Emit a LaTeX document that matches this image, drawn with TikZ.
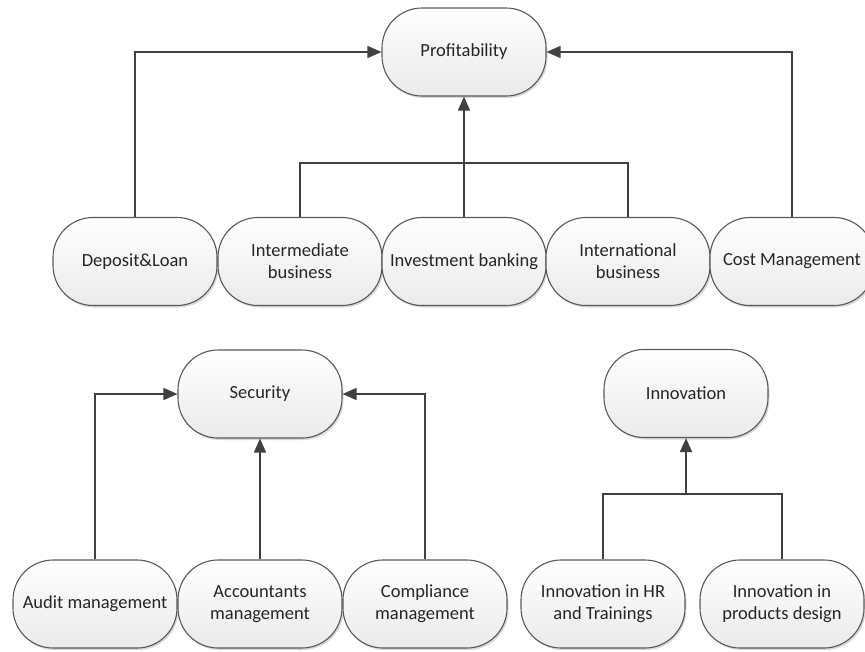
\documentclass[tikz,border=0pt]{standalone}
\usepackage{fontspec}
\setmainfont{Carlito}
\usetikzlibrary{arrows.meta,shadows}
\begin{document}
\begin{tikzpicture}[x=1pt,y=-1pt,
  pill/.style={draw=black!65, line width=1.1pt, rounded corners=40pt,
    minimum width=164pt, minimum height=88pt, inner sep=2pt,
    top color=white, bottom color=black!8, text=black!85,
    font=\fontsize{18.5}{22}\selectfont, align=center,
    drop shadow={shadow xshift=1.5pt, shadow yshift=-2pt, opacity=0.3, fill=black!50}},
  link/.style={draw=black!75, line width=1.5pt},
  arr/.style={link, -{Triangle[length=14pt,width=12pt]}}]
\useasboundingbox (0,0) rectangle (865,651);

% Profitability tree
\node[pill] (prof)  at (464,52)    {Profitability};
\node[pill] (dep)   at (135,261.5) {Deposit\&Loan};
\node[pill] (inter) at (300,261.5) {Intermediate\\business};
\node[pill] (inv)   at (464,261.5) {Investment banking};
\node[pill] (intl)  at (628,261.5) {International\\business};
\node[pill] (cost)  at (792,261.5) {Cost Management};

\coordinate (pj) at (464,163);
\draw[arr] (dep.north) |- (prof.west);
\draw[arr] (cost.north) |- (prof.east);
\draw[link] (inter.north) |- (pj) -| (intl.north);
\draw[arr] (inv.north) -- (prof.south);

% Security tree
\node[pill] (sec)   at (260,394) {Security};
\node[pill] (audit) at (95,604)  {Audit management};
\node[pill] (acct)  at (260,604) {Accountants\\management};
\node[pill] (comp)  at (425,604) {Compliance\\management};

\draw[arr] (audit.north) |- (sec.west);
\draw[arr] (comp.north) |- (sec.east);
\draw[arr] (acct.north) -- (sec.south);

% Innovation tree
\node[pill] (inno) at (686,393.5) {Innovation};
\node[pill] (hr)   at (603,604)   {Innovation in HR\\and Trainings};
\node[pill] (prod) at (782,604)   {Innovation in\\products design};

\coordinate (ij) at (686,494);
\draw[link] (hr.north) |- (ij) -| (prod.north);
\draw[arr] (ij) -- (inno.south);
\end{tikzpicture}
\end{document}
